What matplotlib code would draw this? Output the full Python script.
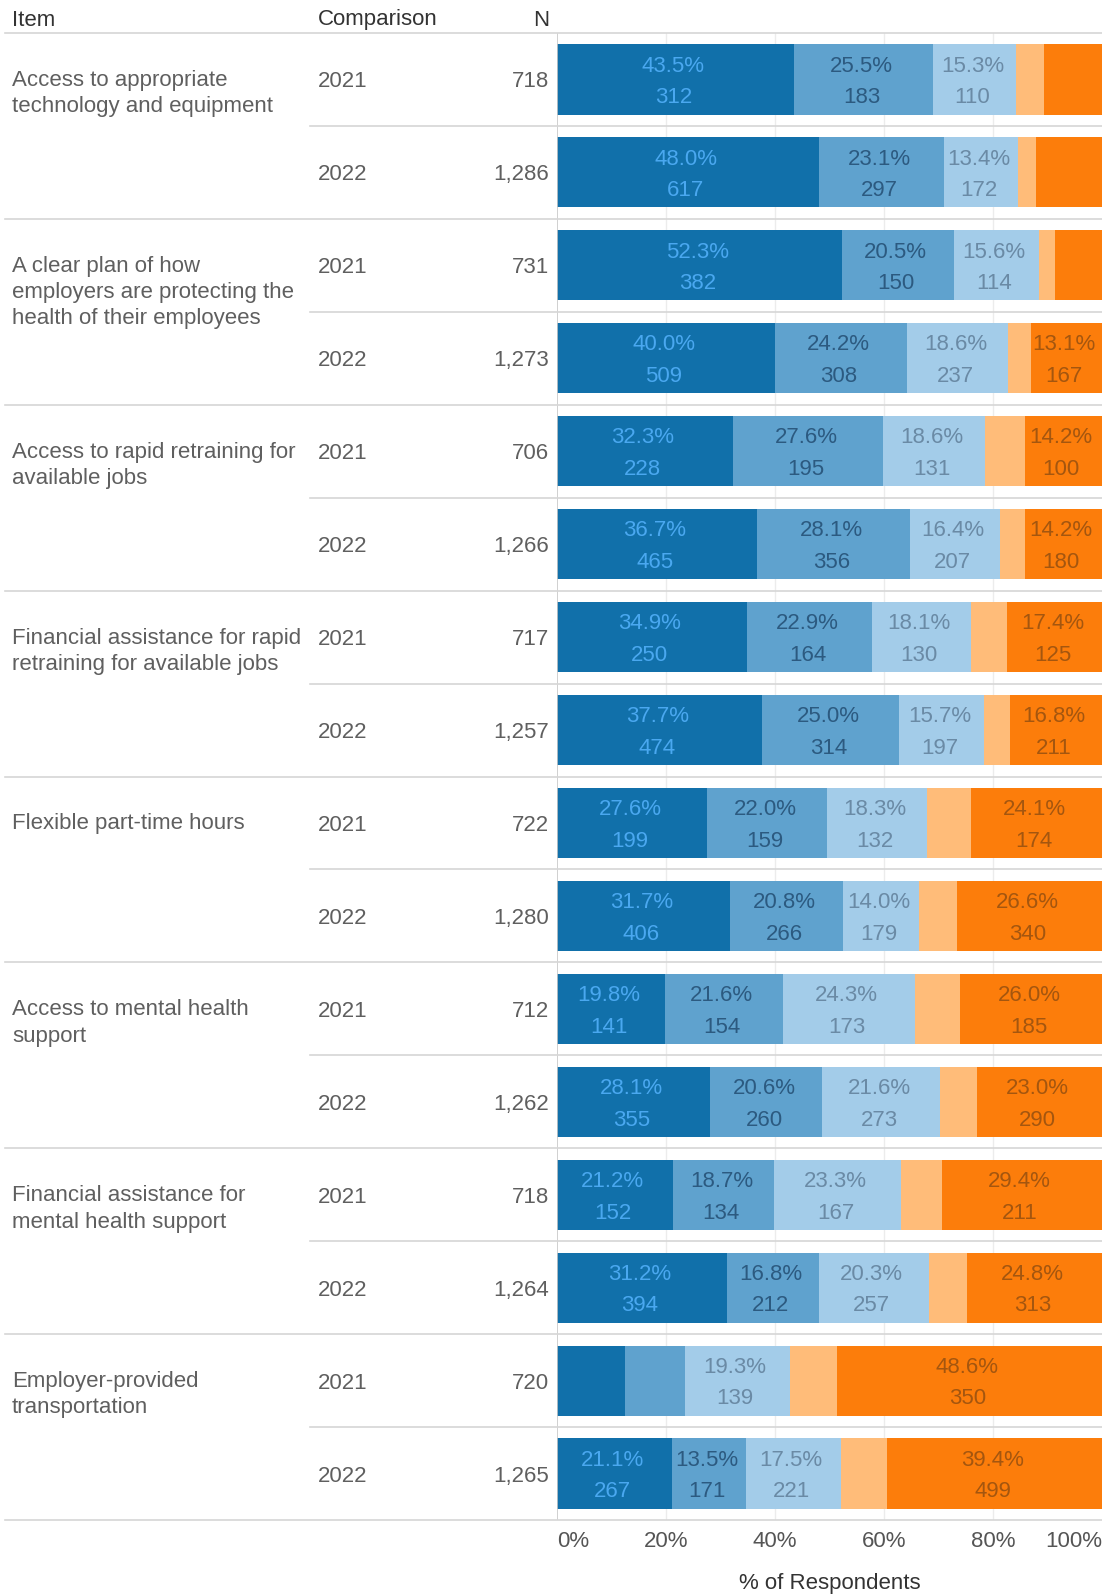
import matplotlib
matplotlib.use("Agg")
import matplotlib.pyplot as plt
from matplotlib.lines import Line2D
from matplotlib.transforms import blended_transform_factory

plt.rcParams['font.family'] = ['Liberation Sans', 'DejaVu Sans']

# --- data ---
items = [
    ["Access to appropriate", "technology and equipment"],
    ["A clear plan of how", "employers are protecting the", "health of their employees"],
    ["Access to rapid retraining for", "available jobs"],
    ["Financial assistance for rapid", "retraining for available jobs"],
    ["Flexible part-time hours"],
    ["Access to mental health", "support"],
    ["Financial assistance for", "mental health support"],
    ["Employer-provided", "transportation"],
]
years = ["2021", "2022"] * 8
n_vals = [718, 1286, 731, 1273, 706, 1266, 717, 1257,
          722, 1280, 712, 1262, 718, 1264, 720, 1265]

# percent of respondents per segment (5 response levels)
pct1 = [43.5, 48.0, 52.3, 40.0, 32.3, 36.7, 34.9, 37.7, 27.6, 31.7, 19.8, 28.1, 21.2, 31.2, 12.4, 21.1]
pct2 = [25.5, 23.1, 20.5, 24.2, 27.6, 28.1, 22.9, 25.0, 22.0, 20.8, 21.6, 20.6, 18.7, 16.8, 11.0, 13.5]
pct3 = [15.3, 13.4, 15.6, 18.6, 18.6, 16.4, 18.1, 15.7, 18.3, 14.0, 24.3, 21.6, 23.3, 20.3, 19.3, 17.5]
pct4 = [5.1, 3.3, 2.9, 4.1, 7.3, 4.6, 6.7, 4.8, 8.0, 6.9, 8.3, 6.7, 7.4, 6.9, 8.7, 8.5]
pct5 = [10.6, 12.2, 8.7, 13.1, 14.2, 14.2, 17.4, 16.8, 24.1, 26.6, 26.0, 23.0, 29.4, 24.8, 48.6, 39.4]

# counts shown as labels (None = label not shown)
cnt1 = [312, 617, 382, 509, 228, 465, 250, 474, 199, 406, 141, 355, 152, 394, None, 267]
cnt2 = [183, 297, 150, 308, 195, 356, 164, 314, 159, 266, 154, 260, 134, 212, None, 171]
cnt3 = [110, 172, 114, 237, 131, 207, 130, 197, 132, 179, 173, 273, 167, 257, 139, 221]
cnt4 = [None] * 16
cnt5 = [None, None, None, 167, 100, 180, 125, 211, 174, 340, 185, 290, 211, 313, 350, 499]

ticks = [0, 20, 40, 60, 80, 100]

bar_colors = ['#1170aa', '#5fa2ce', '#a3cce9', '#ffbc79', '#fc7d0b']
lbl_colors = ['#4aa8f0', '#2c5a80', '#6a8aa5', '#a0602a', '#a4560f']

W, H = 1102, 1595
fig = plt.figure(figsize=(W / 100, H / 100), dpi=100)

top_px, bot_px, x0_px = 33, 1520, 557
ax = fig.add_axes([x0_px / W, 1 - bot_px / H, (W - x0_px) / W, (bot_px - top_px) / H])
ax.set_xlim(0, 100)
ax.set_ylim(16, 0)
row_px = (bot_px - top_px) / 16.0

for g in ticks[1:-1]:
    ax.axvline(g, color='#ececec', lw=1, zorder=0)
ax.axvline(0, color='#c8c8c8', lw=1.2, zorder=3)

rows = [i + 0.5 for i in range(16)]
pcts = [pct1, pct2, pct3, pct4, pct5]
cnts = [cnt1, cnt2, cnt3, cnt4, cnt5]
left = [0.0] * 16
off = 15.8 / row_px
for k in range(5):
    ax.barh(rows, pcts[k], left=left, height=0.755, color=bar_colors[k], zorder=2)
    for i in range(16):
        if cnts[k][i] is not None:
            cx = left[i] + pcts[k][i] / 2 - 0.4
            ax.text(cx, rows[i] - off, f"{pcts[k][i]:.1f}%", ha='center', va='center_baseline',
                    fontsize=16, color=lbl_colors[k], zorder=4)
            ax.text(cx, rows[i] + off, f"{cnts[k][i]}", ha='center', va='center_baseline',
                    fontsize=16, color=lbl_colors[k], zorder=4)
    left = [left[i] + pcts[k][i] for i in range(16)]

for s in ax.spines.values():
    s.set_visible(False)
ax.set_yticks([])
ax.set_xticks(ticks)
tl = ax.set_xticklabels([f"{t}%" for t in ticks], fontsize=16, color='#555555')
tl[0].set_ha('left')
tl[-1].set_ha('right')
ax.tick_params(axis='x', length=0, pad=8)

fig.text((x0_px + W) / 2 / W, 1 - 1583 / H, "% of Respondents", ha='center', va='center',
         fontsize=16, color='#333333')

# left table
tr = blended_transform_factory(fig.transFigure, ax.transData)
hdr_y = 1 - 20 / H
fig.text(12 / W, hdr_y, "Item", ha='left', va='center', fontsize=16, color='#333333')
fig.text(318 / W, hdr_y, "Comparison", ha='left', va='center', fontsize=16, color='#333333')
fig.text(549 / W, hdr_y, "N", ha='right', va='center', fontsize=16, color='#333333')

txt_col = '#5f5f5f'
line_step = 26.3 / row_px
for i in range(16):
    fig.text(318 / W, rows[i], years[i], transform=tr, ha='left', va='center_baseline',
             fontsize=16, color=txt_col)
    fig.text(549 / W, rows[i], f"{n_vals[i]:,}", transform=tr, ha='right', va='center_baseline',
             fontsize=16, color=txt_col)
for g, lines in enumerate(items):
    for j, s in enumerate(lines):
        fig.text(12 / W, rows[2 * g] + j * line_step - 1.5 / row_px, s, transform=tr, ha='left',
                 va='center_baseline', fontsize=16, color=txt_col)

for b in range(17):
    xs = 5 / W if b % 2 == 0 else 310 / W
    fig.add_artist(Line2D([xs, 1], [b, b], transform=tr, color='#d6d6d6', lw=1.2, zorder=1))

fig.savefig("out.png", dpi=100)
